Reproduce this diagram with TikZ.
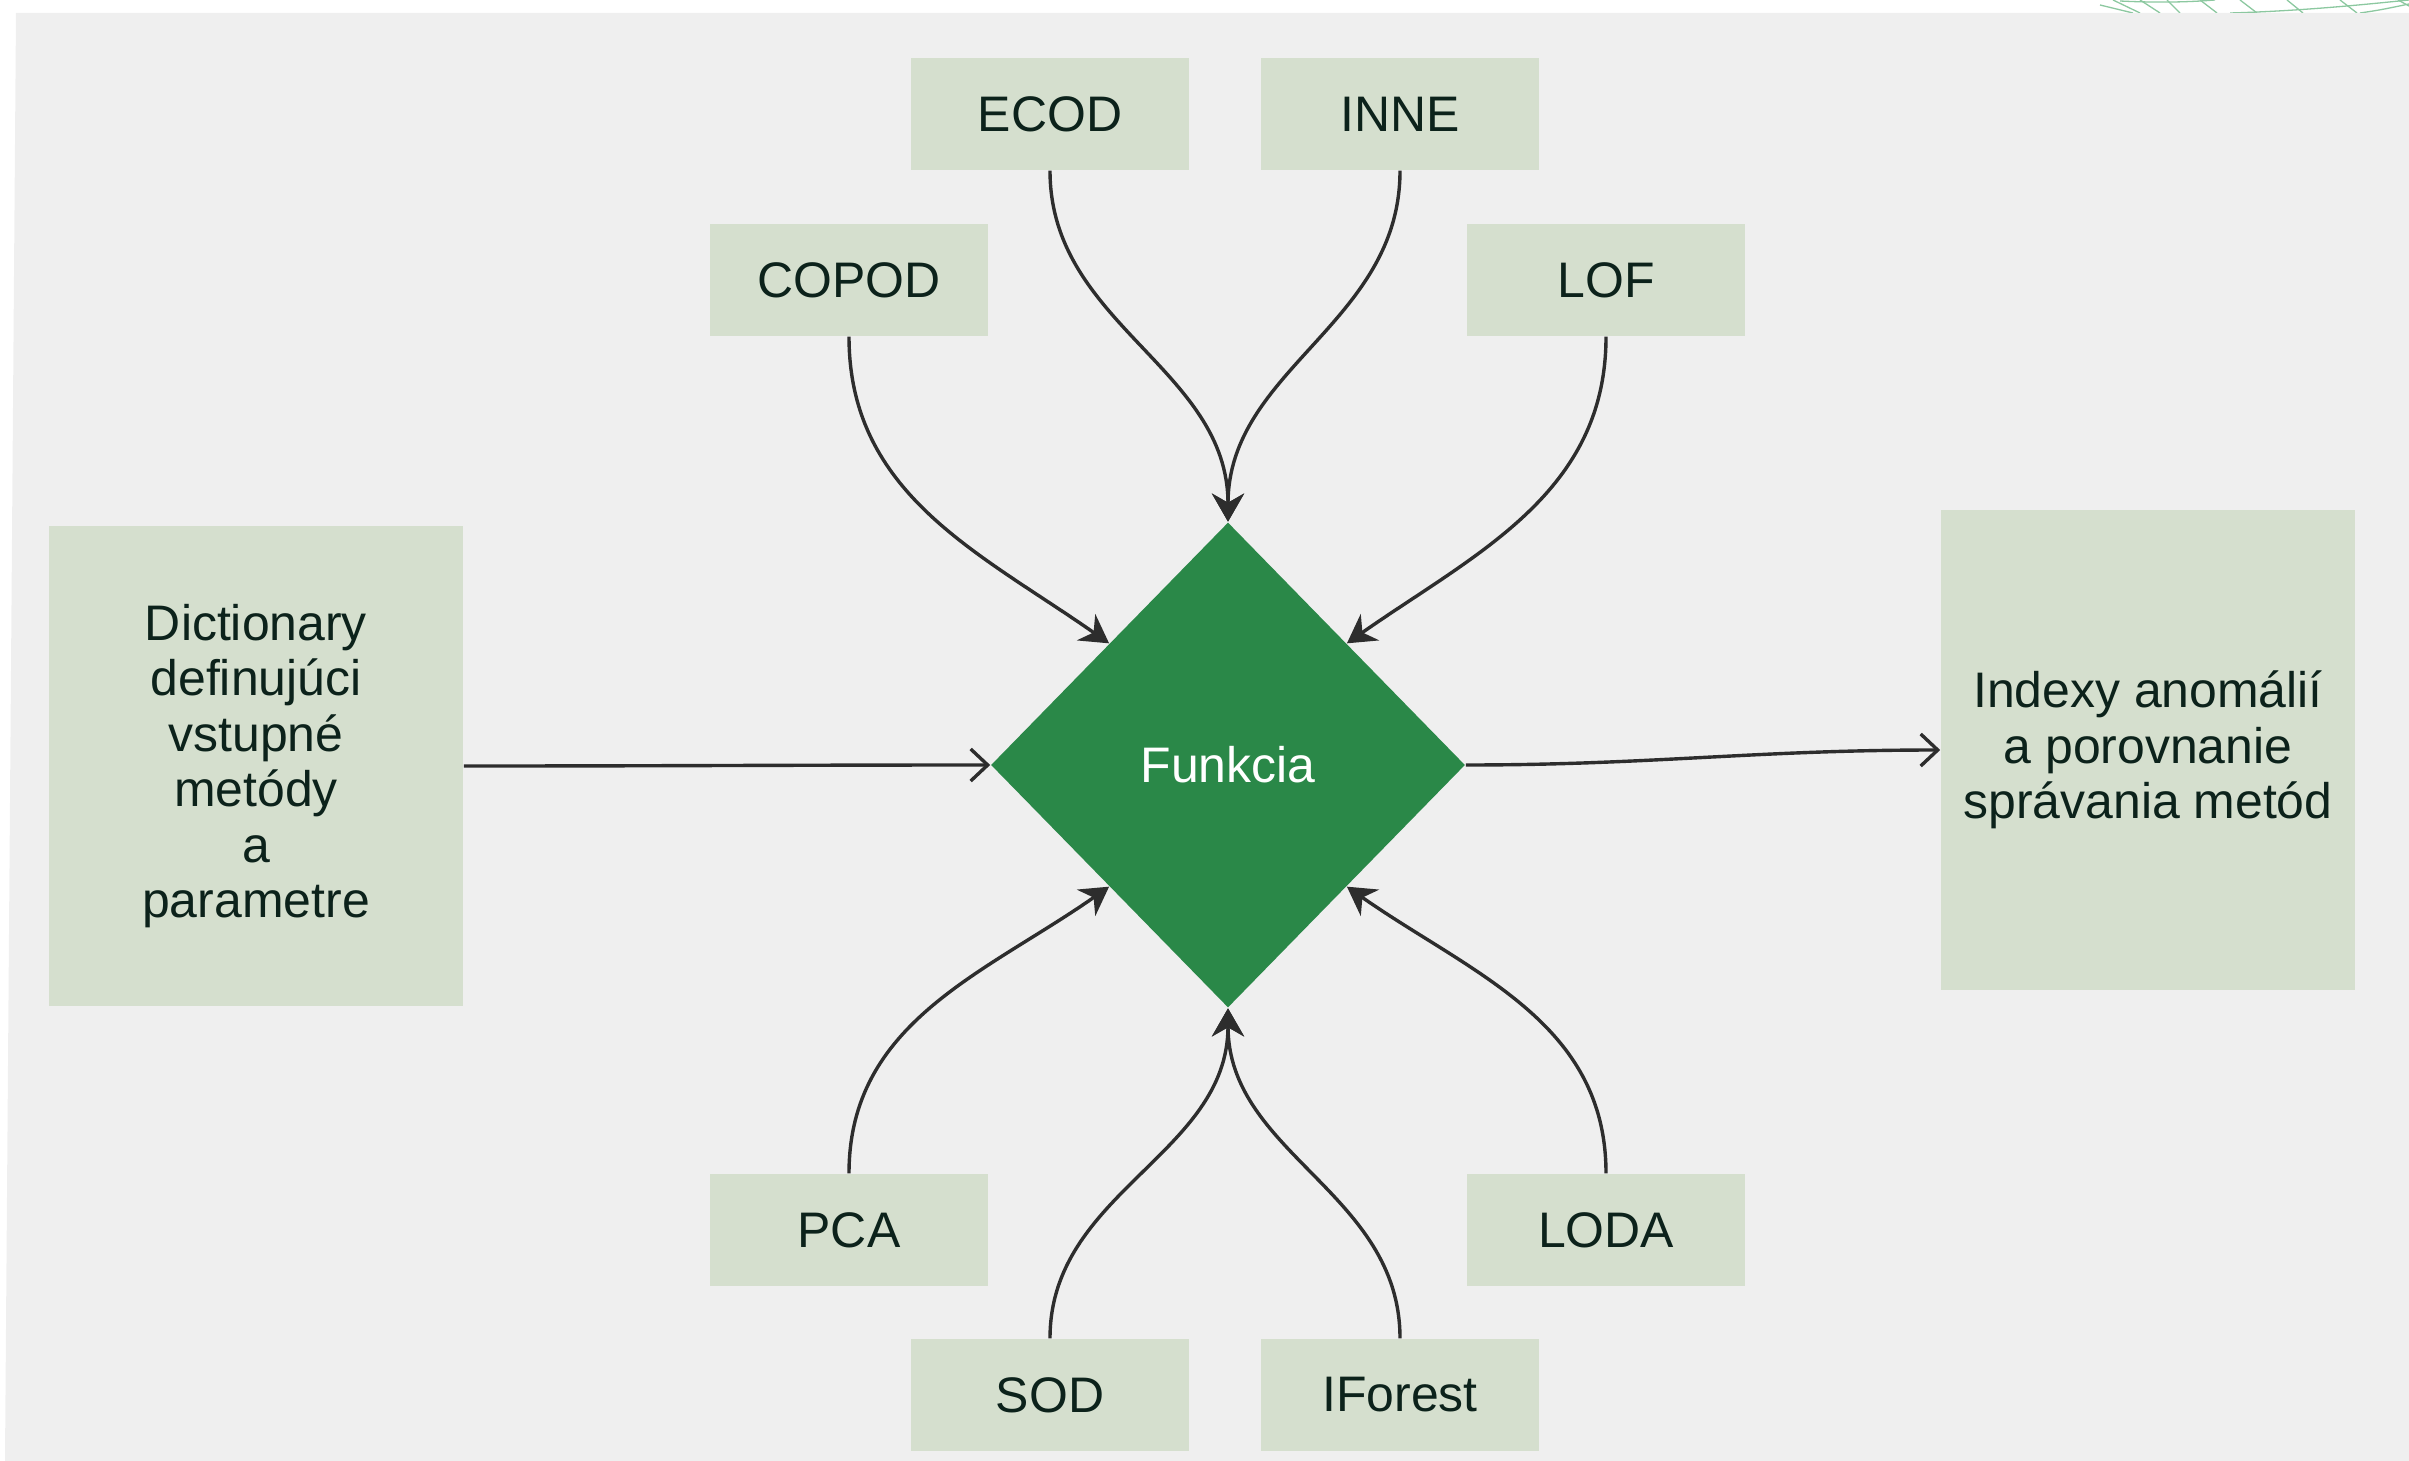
\documentclass[tikz,border=0pt]{standalone}
\usepackage{fontspec}
\setmainfont{Liberation Sans}
\usepackage{tikz}
\usetikzlibrary{
	arrows.meta,
	positioning,
	shapes.geometric
}
\definecolor{main}{RGB}{42,136,72}
\definecolor{boxbg}{RGB}{213,223,206}
\definecolor{back}{RGB}{239,239,239}
\definecolor{ink}{RGB}{12,34,27}
\definecolor{wire}{RGB}{45,45,45}
\definecolor{deco}{RGB}{140,200,160}
\tikzset{
  % arrow
	cstra/.style      ={-{Stealth[length=0.28cm,width=0.32cm]}, line width=0.034cm, draw=wire},     % filled arrow
	cstwra/.style     ={-{Straight Barb[length=0.17cm,width=0.32cm]}, line width=0.034cm, draw=wire}, % open arrow
  % text
	csttext/.style    ={font=\fontsize{14.2}{15.8}\selectfont},
  % node
	cstnode/.style    ={csttext, fill=boxbg, text=ink, minimum width=2.77cm, minimum height=1.12cm, inner sep=0pt},
	cstbig/.style     ={csttext, fill=boxbg, text=ink, minimum width=4.14cm, minimum height=4.8cm, inner sep=0pt, align=center},
	cstfunc/.style    ={csttext, diamond, fill=main, text=white, minimum width=4.74cm, minimum height=4.85cm, inner sep=0pt}
}

\begin{document}
\begin{tikzpicture}[x=0.01cm,y=-0.01cm]
	\useasboundingbox (0,0) rectangle (2409,1461);
	% background
	\fill[back] (16,13) -- (2409,13) -- (2409,1461) -- (5,1461) -- cycle;
	\begin{scope}[deco, line width=0.013cm]
		\clip (2090,0) rectangle (2409,13);
		\draw (2100,5) -- (2133,13);
		\draw (2113,0) -- (2140,13);
		\draw (2140,0) -- (2160,13);
		\draw (2167,0) -- (2180,13);
		\draw (2200,0) -- (2217,13);
		\draw (2240,0) -- (2257,13);
		\draw (2287,0) -- (2303,13);
		\draw (2340,0) -- (2357,13);
		\draw (2398,0) -- (2409,6);
		\draw (2120,1) .. controls (2160,3) and (2190,2) .. (2215,0);
		\draw (2230,13) .. controls (2300,11) and (2360,5) .. (2409,0);
		\draw (2360,13) .. controls (2380,10) .. (2409,4);
	\end{scope}
	% centre
	\node[cstfunc] (func) at (1228,765) {Funkcia};
	% methods
	\node[cstnode] (ecod)    at (1050,114)  {ECOD};
	\node[cstnode] (inne)    at (1400,114)  {INNE};
	\node[cstnode] (copod)   at (849,280)   {COPOD};
	\node[cstnode] (lof)     at (1606,280)  {LOF};
	\node[cstnode] (pca)     at (849,1230)  {PCA};
	\node[cstnode] (loda)    at (1606,1230) {LODA};
	\node[cstnode] (sod)     at (1050,1395) {SOD};
	\node[cstnode] (iforest) at (1400,1395) {IForest};
	% input and output
	\node[cstbig] (dict) at (256,766) {Dictionary\\definujúci\\vstupné\\metódy\\a\\parametre};
	\node[cstbig] (idx)  at (2148,750) {Indexy anomálií\\a porovnanie\\správania metód};
	% arrows
	\draw[cstra] (ecod.south)    to[out=-90,in=90]  (func.north);
	\draw[cstra] (inne.south)    to[out=-90,in=90]  (func.north);
	\draw[cstra] (copod.south)   to[out=-90,in=145] (func.north west);
	\draw[cstra] (lof.south)     to[out=-90,in=35]  (func.north east);
	\draw[cstra] (pca.north)     to[out=90,in=-145] (func.south west);
	\draw[cstra] (loda.north)    to[out=90,in=-35]  (func.south east);
	\draw[cstra] (sod.north)     to[out=90,in=-90]  (func.south);
	\draw[cstra] (iforest.north) to[out=90,in=-90]  (func.south);
	\draw[cstwra] (dict.east) to[out=0,in=180] (func.west);
	\draw[cstwra] (func.east) to[out=0,in=180] (idx.west);
\end{tikzpicture}
\end{document}
